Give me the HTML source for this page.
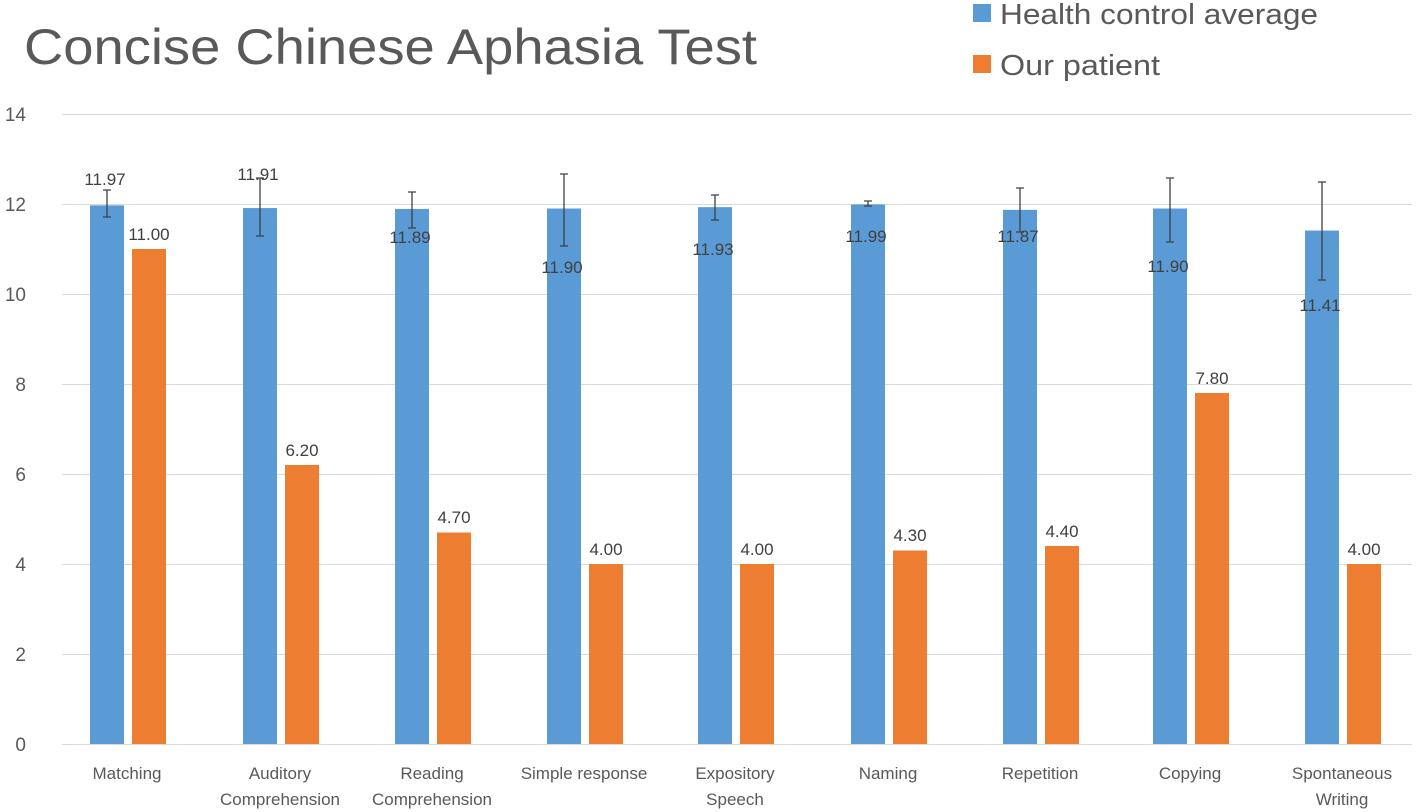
<!DOCTYPE html>
<html><head><style>
body{margin:0;background:#fff;}
svg{display:block;font-family:"Liberation Sans",sans-serif;}
</style></head><body>
<svg width="1420" height="812" viewBox="0 0 1420 812" xmlns="http://www.w3.org/2000/svg">
<text x="24" y="64" font-size="50" fill="#595959" textLength="733" lengthAdjust="spacingAndGlyphs">Concise Chinese Aphasia Test</text>
<rect x="973" y="4" width="18" height="18" fill="#5b9bd5"/>
<text x="1000" y="24" font-size="29" fill="#595959" textLength="318" lengthAdjust="spacingAndGlyphs">Health control average</text>
<rect x="973" y="55" width="18" height="18" fill="#ed7d31"/>
<text x="1000" y="75" font-size="29" fill="#595959" textLength="160" lengthAdjust="spacingAndGlyphs">Our patient</text>
<g stroke="#d9d9d9" stroke-width="1">
<line x1="62" x2="1412" y1="114.5" y2="114.5"/>
<line x1="62" x2="1412" y1="204.5" y2="204.5"/>
<line x1="62" x2="1412" y1="294.5" y2="294.5"/>
<line x1="62" x2="1412" y1="384.5" y2="384.5"/>
<line x1="62" x2="1412" y1="474.5" y2="474.5"/>
<line x1="62" x2="1412" y1="564.5" y2="564.5"/>
<line x1="62" x2="1412" y1="654.5" y2="654.5"/>
<line x1="62" x2="1412" y1="744.5" y2="744.5"/>
</g>
<g font-size="19" fill="#595959" text-anchor="end">
<text x="26" y="121">14</text><text x="26" y="211">12</text><text x="26" y="301">10</text>
<text x="26" y="391">8</text><text x="26" y="481">6</text><text x="26" y="571">4</text>
<text x="26" y="661">2</text><text x="26" y="751">0</text>
</g>
<g fill="#5b9bd5">
<rect x="90" y="205.35" width="34" height="538.65"/>
<rect x="243" y="208.05" width="34" height="535.95"/>
<rect x="395" y="208.95" width="34" height="535.05"/>
<rect x="547" y="208.5" width="34" height="535.5"/>
<rect x="698" y="207.15" width="34" height="536.85"/>
<rect x="851" y="204.45" width="34" height="539.55"/>
<rect x="1003" y="209.85" width="34" height="534.15"/>
<rect x="1153" y="208.5" width="34" height="535.5"/>
<rect x="1305" y="230.55" width="34" height="513.45"/>
</g>
<g fill="#ed7d31">
<rect x="132" y="249" width="34" height="495"/>
<rect x="285" y="465" width="34" height="279"/>
<rect x="437" y="532.5" width="34" height="211.5"/>
<rect x="589" y="564" width="34" height="180"/>
<rect x="740" y="564" width="34" height="180"/>
<rect x="893" y="550.5" width="34" height="193.5"/>
<rect x="1045" y="546" width="34" height="198"/>
<rect x="1195" y="393" width="34" height="351"/>
<rect x="1347" y="564" width="34" height="180"/>
</g>
<g stroke="#404040" stroke-width="1.3">
<path d="M107 190V217M103 190H111M103 217H111"/>
<path d="M260 178V236M256 178H264M256 236H264"/>
<path d="M412 192V228M408 192H416M408 228H416"/>
<path d="M564 174V246M560 174H568M560 246H568"/>
<path d="M715 195V220M711 195H719M711 220H719"/>
<path d="M868 201V206M864 201H872M864 206H872"/>
<path d="M1020 188V232M1016 188H1024M1016 232H1024"/>
<path d="M1170 178V242M1166 178H1174M1166 242H1174"/>
<path d="M1322 182V280M1318 182H1326M1318 280H1326"/>
</g>
<g font-size="17" fill="#404040" text-anchor="middle">
<text x="105" y="185">11.97</text><text x="149" y="240">11.00</text>
<text x="258" y="180">11.91</text><text x="302" y="456">6.20</text>
<text x="410" y="243">11.89</text><text x="454" y="523">4.70</text>
<text x="562" y="273">11.90</text><text x="606" y="555">4.00</text>
<text x="713" y="255">11.93</text><text x="757" y="555">4.00</text>
<text x="866" y="242">11.99</text><text x="910" y="541">4.30</text>
<text x="1018" y="242">11.87</text><text x="1062" y="537">4.40</text>
<text x="1168" y="272">11.90</text><text x="1212" y="384">7.80</text>
<text x="1320" y="311">11.41</text><text x="1364" y="555">4.00</text>
</g>
<g font-size="17" fill="#595959" text-anchor="middle">
<text x="127" y="779">Matching</text>
<text x="280" y="779">Auditory</text><text x="280" y="805">Comprehension</text>
<text x="432" y="779">Reading</text><text x="432" y="805">Comprehension</text>
<text x="584" y="779">Simple response</text>
<text x="735" y="779">Expository</text><text x="735" y="805">Speech</text>
<text x="888" y="779">Naming</text>
<text x="1040" y="779">Repetition</text>
<text x="1190" y="779">Copying</text>
<text x="1342" y="779">Spontaneous</text><text x="1342" y="805">Writing</text>
</g>
</svg>
</body></html>
